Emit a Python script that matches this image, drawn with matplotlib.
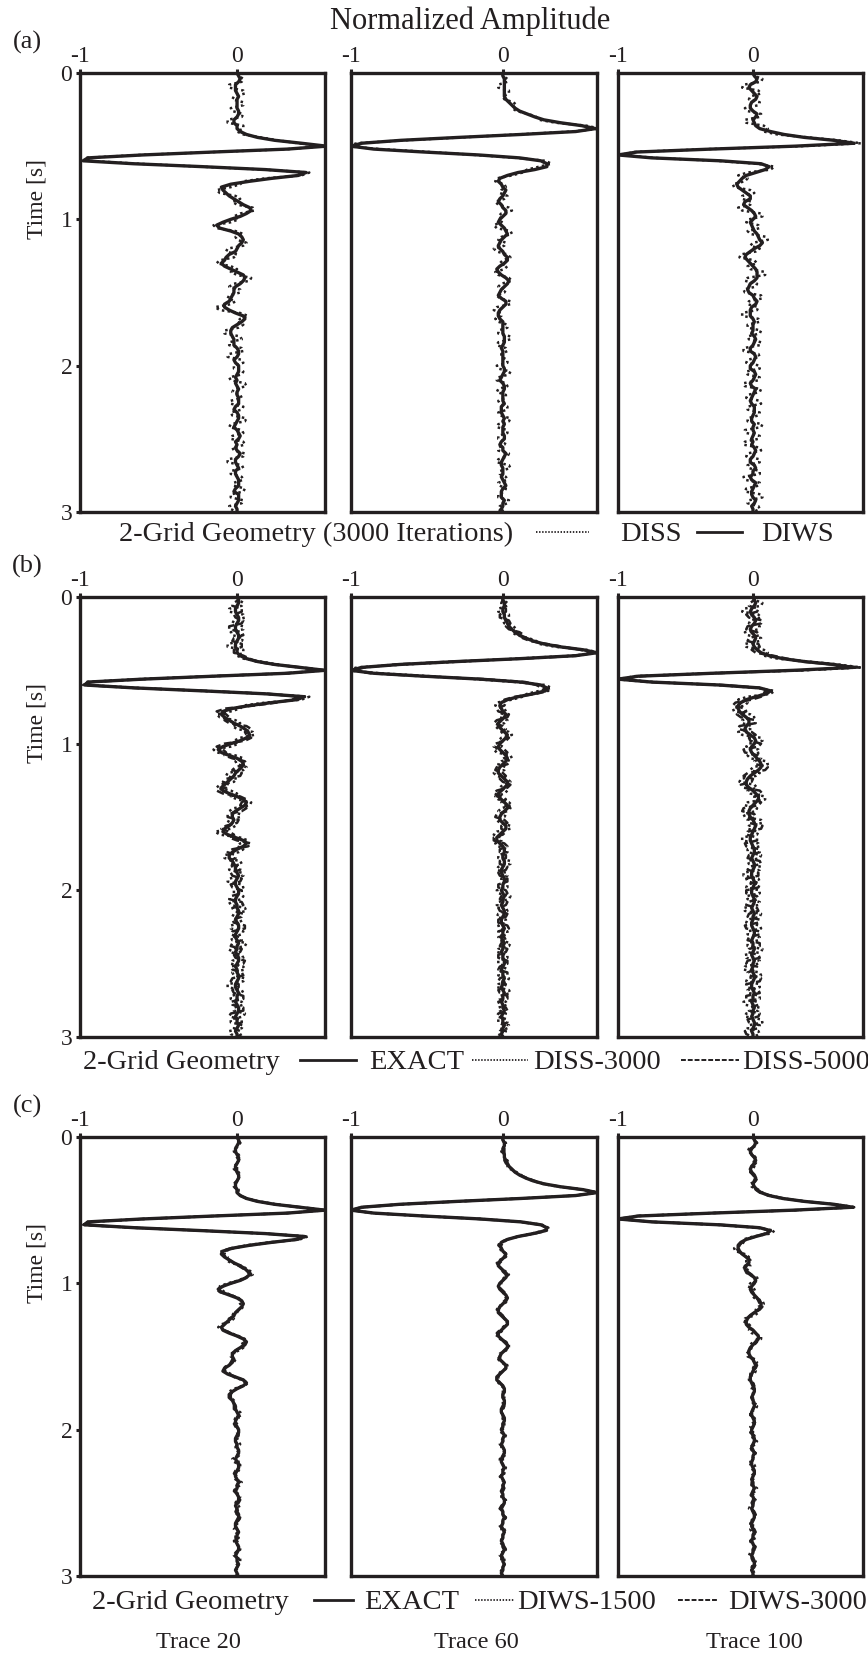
import matplotlib.pyplot as plt
import numpy as np

plt.rcParams['font.family'] = ['Liberation Serif', 'DejaVu Serif']

W, H = 868, 1653
ink = '#231f20'

# seismic traces sampled every 0.02 s from 0 to 3 s
dt = 0.02
time = np.arange(151) * dt

exact_20 = [0.00, 0.01, 0.01, 0.00, -0.01, -0.01, 0.00, 0.01, 0.01, 0.00,
            -0.01, -0.01, 0.00, 0.01, 0.01, 0.00, -0.01, -0.01, 0.00, 0.00,
            0.02, 0.06, 0.13, 0.24, 0.40, 0.56, 0.32, -0.15, -0.60, -0.95,
            -0.97, -0.65, -0.22, 0.18, 0.43, 0.38, 0.22, 0.08, -0.03, -0.09,
            -0.10, -0.08, -0.05, -0.02, 0.02, 0.05, 0.07, 0.08, 0.06, 0.02,
            -0.04, -0.09, -0.12, -0.10, -0.05, 0.00, 0.03, 0.04, 0.03, 0.01,
            -0.01, -0.02, -0.04, -0.06, -0.08, -0.10, -0.09, -0.05, 0.00, 0.04,
            0.06, 0.05, 0.02, -0.01, -0.03, -0.03, -0.02, -0.03, -0.05, -0.08,
            -0.09, -0.06, -0.01, 0.04, 0.06, 0.04, 0.00, -0.03, -0.05, -0.05,
            -0.03, -0.02, -0.01, -0.01, 0.00, 0.01, 0.00, -0.01, -0.01, 0.00,
            0.01, 0.01, 0.00, -0.01, -0.01, 0.00, 0.00, 0.01, 0.01, 0.00,
            -0.01, 0.00, 0.01, 0.01, 0.00, -0.01, -0.01, 0.00, 0.01, 0.00,
            0.00, -0.01, 0.00, 0.01, 0.01, 0.00, -0.01, 0.00, 0.00, 0.01,
            0.01, 0.00, -0.01, -0.01, 0.00, 0.01, 0.00, 0.00, -0.01, 0.00,
            0.01, 0.01, 0.00, -0.01, 0.00, 0.00, 0.01, 0.00, -0.01, 0.00, 0.00]

exact_60 = [0.00, 0.00, 0.01, 0.01, 0.00, 0.00, 0.01, 0.01, 0.02, 0.03,
            0.04, 0.06, 0.08, 0.11, 0.15, 0.20, 0.27, 0.38, 0.53, 0.62,
            0.48, 0.12, -0.30, -0.68, -0.93, -1.00, -0.85, -0.52, -0.15, 0.12,
            0.25, 0.29, 0.28, 0.20, 0.10, 0.03, -0.01, -0.02, -0.01, 0.00,
            0.02, 0.01, -0.01, -0.03, -0.03, -0.01, 0.01, 0.03, 0.02, 0.00,
            -0.02, -0.03, -0.02, 0.00, 0.02, 0.03, 0.02, 0.00, -0.02, -0.03,
            -0.03, -0.01, 0.01, 0.03, 0.03, 0.01, -0.01, -0.03, -0.03, -0.01,
            0.01, 0.03, 0.03, 0.01, -0.01, -0.02, -0.02, 0.00, 0.02, 0.02,
            0.00, -0.02, -0.04, -0.04, -0.02, 0.00, 0.01, 0.01, 0.00, 0.00,
            0.01, 0.01, 0.00, -0.01, -0.01, 0.00, 0.01, 0.01, 0.00, 0.00,
            -0.01, 0.00, 0.01, 0.00, 0.00, -0.01, 0.00, 0.01, 0.01, 0.00,
            -0.01, -0.01, 0.00, 0.01, 0.00, 0.00, -0.01, 0.00, 0.01, 0.00,
            0.00, -0.01, 0.00, 0.00, 0.01, 0.01, 0.00, -0.01, 0.00, 0.00,
            0.01, 0.00, 0.00, -0.01, 0.00, 0.01, 0.00, 0.00, -0.01, 0.00,
            0.00, 0.01, 0.00, -0.01, 0.00, 0.00, 0.01, 0.00, 0.00, -0.01, 0.00]

exact_100 = [0.00, 0.01, 0.02, 0.01, -0.01, -0.02, -0.01, 0.01, 0.02, 0.01,
             -0.01, -0.02, -0.01, 0.01, 0.02, 0.01, 0.00, 0.01, 0.03, 0.06,
             0.12, 0.22, 0.38, 0.60, 0.74, 0.30, -0.30, -0.85, -1.00, -0.75,
             -0.25, 0.05, 0.13, 0.10, 0.02, -0.05, -0.09, -0.11, -0.11, -0.10,
             -0.08, -0.05, -0.03, -0.03, -0.05, -0.06, -0.05, -0.02, 0.01, 0.02,
             0.01, -0.01, -0.02, -0.01, 0.01, 0.03, 0.05, 0.06, 0.06, 0.04,
             0.01, -0.02, -0.04, -0.05, -0.05, -0.03, 0.00, 0.02, 0.04, 0.04,
             0.02, 0.00, -0.02, -0.03, -0.03, -0.02, 0.00, 0.01, 0.02, 0.01,
             0.00, -0.01, -0.02, -0.02, -0.01, 0.00, 0.01, 0.01, 0.00, -0.01,
             0.00, 0.01, 0.01, 0.00, -0.01, -0.01, 0.00, 0.01, 0.01, 0.00,
             -0.01, -0.01, 0.00, 0.01, 0.01, 0.00, -0.01, 0.00, 0.01, 0.00,
             0.00, -0.01, -0.01, 0.00, 0.01, 0.01, 0.00, -0.01, 0.00, 0.00,
             0.01, 0.00, -0.01, 0.00, 0.01, 0.00, 0.00, -0.01, 0.00, 0.01,
             0.01, 0.00, -0.01, -0.01, 0.00, 0.01, 0.00, 0.00, -0.01, 0.00,
             0.01, 0.00, 0.00, -0.01, 0.00, 0.01, 0.01, 0.00, -0.01, 0.00, 0.00]

# inversion misfit (result - exact), hundredths, one value per 0.04 s
diss3000_20 = [0, 3, -4, 4, -3, 5, -4, 3, -5, 4,
               -2, 2, -1, 1, -2, 2, -1, 3, -4, 5,
               -3, 4, -5, 3, -4, 5, -3, 4, -4, 3,
               -5, 4, -3, 5, -4, 3, -4, 5, -3, 4,
               -5, 3, -4, 4, -3, 5, -4, 3, -5, 4,
               -3, 4, -4, 5, -3, 3, -5, 4, -3, 5,
               -4, 3, -4, 5, -3, 4, -5, 3, -4, 4,
               -3, 5, -4, 3, -4, 0]
diss5000_20 = [0, -3, 4, -2, 3, -4, 3, -3, 4, -2,
               2, -1, 1, -2, 1, -1, 2, -3, 3, -4,
               3, -3, 4, -2, 3, -4, 3, -3, 2, -4,
               4, -3, 3, -4, 2, -3, 4, -3, 3, -2,
               4, -4, 3, -3, 4, -2, 3, -4, 3, -3,
               2, -4, 4, -3, 3, -2, 4, -3, 3, -4,
               3, -2, 4, -3, 3, -4, 2, -3, 4, -3,
               3, -4, 3, -2, 3, 0]
diws1500_20 = [0, 1, -1, 1, 0, -1, 1, 0, -1, 1,
               0, 1, -1, 0, 1, -1, 0, 2, -2, 1,
               2, -2, 1, 2, -1, -2, 2, 1, -2, 1,
               -1, 2, -2, 1, 1, -2, 2, -1, 1, -1,
               2, -1, 1, -2, 1, 1, -1, 2, -1, 1,
               -1, 1, 2, -1, 1, -2, 1, 1, -1, 2,
               -1, 1, -1, 2, -1, 1, 1, -2, 1, -1,
               1, -1, 2, -1, 1, 0]
diws3000_20 = [0, 1, 0, -1, 0, 1, 0, 0, -1, 0,
               0, 0, 1, 0, 0, -1, 0, 1, 0, -1,
               1, 0, -1, 1, 0, 0, -1, 1, 0, 0,
               1, -1, 0, 1, 0, -1, 0, 1, -1, 0,
               1, 0, -1, 0, 1, 0, -1, 0, 1, -1,
               0, 1, 0, -1, 0, 1, 0, -1, 1, 0,
               -1, 0, 1, 0, -1, 1, 0, 0, -1, 1,
               0, -1, 1, 0, 0, 0]

diss3000_60 = [0, 2, -3, 3, -2, 3, -2, 2, -3, 2,
               -2, 3, -3, 4, -3, 3, -4, 3, -3, 2,
               -3, 4, -2, 3, -3, 2, -4, 3, -3, 4,
               -3, 2, -3, 4, -2, 3, -4, 3, -2, 3,
               -4, 3, -3, 2, -3, 4, -3, 3, -2, 3,
               -3, 4, -3, 2, -4, 3, -3, 3, -2, 4,
               -3, 3, -4, 2, -3, 3, -3, 4, -2, 3,
               -3, 2, -3, 3, -2, 0]
diss5000_60 = [0, -2, 2, -3, 2, -2, 3, -2, 2, -2,
               2, -3, 2, -2, 3, -3, 2, -2, 3, -3,
               2, -3, 3, -2, 2, -3, 3, -2, 3, -2,
               3, -3, 2, -3, 3, -2, 2, -3, 3, -3,
               2, -2, 3, -3, 2, -3, 3, -2, 2, -3,
               3, -2, 3, -3, 2, -2, 3, -3, 2, -2,
               3, -3, 2, -2, 3, -3, 2, -3, 3, -2,
               2, -3, 3, -2, 2, 0]
diws1500_60 = [0, 1, -1, 0, 1, -1, 1, 0, -1, 1,
               -1, 0, 1, -1, 1, 1, -1, 0, 1, -1,
               1, -1, 0, 1, -1, 1, 0, -1, 1, -1,
               1, 0, -1, 1, -1, 1, 1, -1, 0, 1,
               -1, 1, -1, 0, 1, -1, 1, 0, -1, 1,
               -1, 1, 0, -1, 1, -1, 1, 1, -1, 0,
               1, -1, 1, -1, 0, 1, -1, 1, 0, -1,
               1, -1, 1, 0, -1, 0]
diws3000_60 = [0, 0, 1, 0, -1, 0, 0, 1, 0, -1,
               0, 1, 0, 0, -1, 0, 1, 0, -1, 0,
               0, 1, 0, -1, 0, 0, 1, 0, -1, 0,
               1, 0, 0, -1, 0, 1, 0, 0, -1, 0,
               0, 1, 0, -1, 0, 0, 1, 0, -1, 0,
               1, 0, -1, 0, 0, 1, 0, -1, 0, 0,
               1, 0, 0, -1, 0, 1, 0, -1, 0, 0,
               1, 0, -1, 0, 0, 0]

diss3000_100 = [0, 5, -6, 5, -4, 6, -5, 4, -6, 5,
                -4, 3, 6, -3, 2, -2, 3, -6, 5, -4,
                6, -5, 4, -6, 5, -4, 6, -5, 5, -6,
                4, -5, 6, -4, 5, -6, 5, -4, 6, -5,
                4, -6, 5, -5, 6, -4, 5, -6, 4, -5,
                6, -5, 4, -6, 5, -4, 6, -5, 5, -4,
                6, -5, 4, -6, 5, -5, 6, -4, 5, -6,
                4, -5, 6, -4, 5, 0]
diss5000_100 = [0, -4, 5, -4, 5, -3, 4, -5, 4, -4,
                3, -2, 5, 2, -2, 2, -3, 4, -4, 5,
                -4, 5, -5, 4, -4, 5, -5, 3, -4, 5,
                -5, 4, -4, 5, -3, 4, -5, 4, -4, 5,
                -4, 5, -5, 4, -3, 5, -4, 5, -5, 4,
                -4, 3, -5, 4, -4, 5, -5, 4, -3, 5,
                -4, 5, -5, 3, -4, 5, -4, 4, -5, 4,
                -3, 5, -4, 4, -5, 0]
diws1500_100 = [0, 1, -2, 1, -1, 2, -1, 1, -2, 1,
                -1, 1, 2, -1, 1, -2, 3, -2, 2, -3,
                2, -2, 3, -1, 2, -3, 3, -2, 2, -2,
                3, -2, 2, -3, 2, -2, 1, -2, 2, -1,
                2, -1, 1, -2, 1, -1, 2, -1, 1, -2,
                1, -1, 2, -1, 1, -1, 2, -2, 1, -1,
                2, -1, 1, -2, 1, -1, 1, -2, 2, -1,
                1, -2, 1, -1, 1, 0]
diws3000_100 = [0, 1, -1, 0, 1, 0, -1, 1, 0, -1,
                1, 0, 1, -1, 0, 1, -1, 0, 1, -1,
                0, 1, -1, 1, 0, -1, 1, 0, -1, 1,
                0, -1, 1, 0, -1, 1, 0, -1, 0, 1,
                -1, 0, 1, -1, 0, 1, 0, -1, 1, 0,
                -1, 1, 0, -1, 1, 0, -1, 0, 1, -1,
                0, 1, -1, 0, 1, 0, -1, 1, 0, -1,
                1, 0, -1, 1, 0, 0]

trace_labels = ['Trace 20', 'Trace 60', 'Trace 100']
amp_max = [0.56, 0.62, 0.815]


def with_misfit(base, misfit):
    # misfit values are held over two samples of the 0.02 s grid
    r = np.repeat(np.array(misfit) / 100.0, 2)[:len(base)]
    return np.array(base) + r


series = []
for ex, d3, d5, w15, w30 in [(exact_20, diss3000_20, diss5000_20, diws1500_20, diws3000_20),
                             (exact_60, diss3000_60, diss5000_60, diws1500_60, diws3000_60),
                             (exact_100, diss3000_100, diss5000_100, diws1500_100, diws3000_100)]:
    series.append({'EXACT': np.array(ex),
                   'DISS-3000': with_misfit(ex, d3), 'DISS-5000': with_misfit(ex, d5),
                   'DIWS-1500': with_misfit(ex, w15), 'DIWS-3000': with_misfit(ex, w30)})

styles = {'solid': dict(ls='-', lw=2.4),
          'dotted': dict(ls=(0, (1, 1.3)), lw=1.8),
          'dashed': dict(ls=(0, (3, 1.5)), lw=1.8)}

# what goes in each row, drawn back to front
rows = [[('DISS-3000', 'dotted'), ('DIWS-3000', 'solid')],
        [('DISS-5000', 'dashed'), ('DISS-3000', 'dotted'), ('EXACT', 'solid')],
        [('DIWS-3000', 'dashed'), ('DIWS-1500', 'dotted'), ('EXACT', 'solid')]]

col_px = [(80, 325), (351, 597), (618, 863)]
row_px = [(73, 512), (597, 1037), (1137, 1576)]

fig = plt.figure(figsize=(W / 100, H / 100), dpi=100)

for r, (y0, y1) in enumerate(row_px):
    for c, (x0, x1) in enumerate(col_px):
        ax = fig.add_axes([x0 / W, 1 - y1 / H, (x1 - x0) / W, (y1 - y0) / H])
        for name, sty in rows[r]:
            ax.plot(series[c][name], time, color=ink, solid_capstyle='round', **styles[sty])
        ax.set_xlim(-1, amp_max[c])
        ax.set_ylim(3, 0)
        ax.xaxis.tick_top()
        ax.set_xticks([-1, 0])
        ax.set_xticklabels(['-1', '0'])
        ax.tick_params(axis='x', direction='out', length=3, width=2.2, pad=1.5,
                       labelsize=17, colors=ink)
        if c == 0:
            ax.set_yticks([0, 1, 2, 3])
            ax.set_yticklabels(['0', '1', '2', '3'])
            ax.tick_params(axis='y', direction='out', length=3, width=2.2, pad=2.5,
                           labelsize=17, colors=ink)
        else:
            ax.set_yticks([])
        for sp in ax.spines.values():
            sp.set_linewidth(2.4)
            sp.set_color(ink)

# labels, legends and titles in pixel coordinates
ov = fig.add_axes([0, 0, 1, 1])
ov.set_xlim(0, W)
ov.set_ylim(H, 0)
ov.axis('off')
ov.set_zorder(10)

ov.text(470, 21, 'Normalized Amplitude', fontsize=22, ha='center', va='center', color=ink)
for lab, y in zip(['(a)', '(b)', '(c)'], [42, 566, 1106]):
    ov.text(27, y, lab, fontsize=19, ha='center', va='center', color=ink)
for y0, y1 in row_px:
    ov.text(37, y0 + 0.86 * (y1 - y0) / 3, 'Time [s]', fontsize=17, rotation=90,
            ha='center', va='center', color=ink)

legend_rows = [
    (541, [(119, '2-Grid Geometry (3000 Iterations)'), (620, 'DISS'), (761, 'DIWS')],
     [(536, 589, 'dotted'), (697, 742, 'solid')]),
    (1069, [(83, '2-Grid Geometry'), (369, 'EXACT'), (533, 'DISS-3000'), (742, 'DISS-5000')],
     [(300, 356, 'solid'), (472, 528, 'dotted'), (681, 739, 'dashed')]),
    (1609, [(92, '2-Grid Geometry'), (364, 'EXACT'), (517, 'DIWS-1500'), (728, 'DIWS-3000')],
     [(314, 353, 'solid'), (475, 514, 'dotted'), (678, 717, 'dashed')]),
]
key_styles = {'solid': dict(ls='-', lw=2.0),
              'dotted': dict(ls=(0, (0.8, 0.9)), lw=1.3),
              'dashed': dict(ls=(0, (2.5, 1.0)), lw=1.4)}
for base, texts, keys in legend_rows:
    for x, s in texts:
        ov.text(x, base, s, fontsize=20.5, ha='left', va='baseline', color=ink)
    for xa, xb, sty in keys:
        ov.plot([xa, xb], [base - 9, base - 9], color=ink, **key_styles[sty])

for x, s in zip([198, 476, 754], trace_labels):
    ov.text(x, 1648, s, fontsize=17.5, ha='center', va='baseline', color=ink)

fig.savefig('out.png', dpi=100)
